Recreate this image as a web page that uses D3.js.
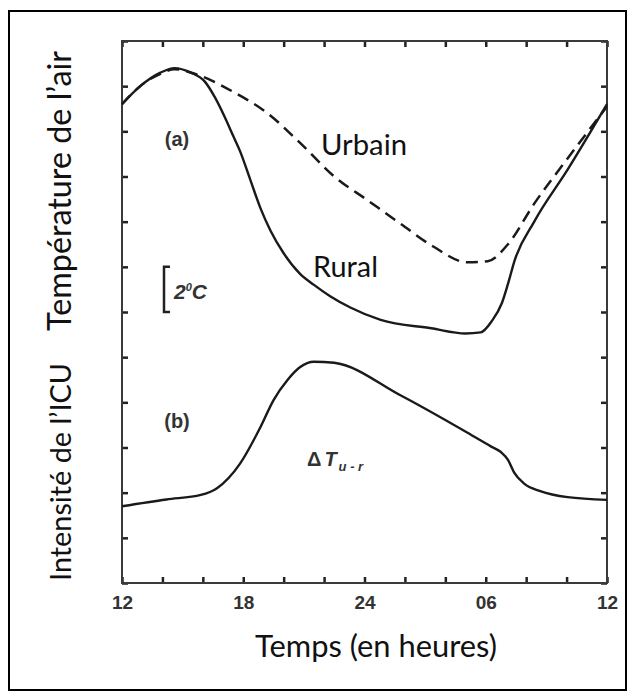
<!DOCTYPE html>
<html>
<head>
<meta charset="utf-8">
<script src="https://cdn.jsdelivr.net/npm/d3@7"></script>
<style>
  body { margin: 0; background: #fff; }
  .calib { font-family: Lato, "Open Sans", sans-serif; fill: #111; }
  .arial { font-family: "Liberation Sans", Arial, sans-serif; font-weight: bold; fill: #333; }
</style>
</head>
<body>
<svg id="chart" width="635" height="700"></svg>
<script>
// heures depuis midi, température relative (°C)
const rural = [
  [0, 21.2], [0.9, 22.0], [1.9, 22.6], [2.6, 22.8], [3.4, 22.6], [4.1, 22.2],
  [4.6, 21.5], [5.1, 20.6], [5.5, 19.8], [5.85, 19.1], [6.35, 17.85], [6.85, 16.6],
  [7.35, 15.6], [8.0, 14.6], [8.8, 13.7], [9.5, 13.2], [10.3, 12.7], [11.3, 12.2],
  [12.8, 11.65], [15.3, 11.28], [17.0, 11.05], [17.75, 11.1], [18.3, 11.6],
  [18.8, 12.4], [19.15, 13.4], [19.4, 14.2], [20.4, 16.0], [22.05, 18.3], [24, 21.2]
]
const urbain = [
  [0, 21.2], [0.9, 22.0], [1.9, 22.55], [2.6, 22.75], [3.9, 22.45], [5.5, 21.75],
  [7.2, 20.8], [8.8, 19.5], [10.5, 18.0], [12.15, 16.95], [13.8, 15.9], [15.4, 14.9],
  [17.1, 14.2], [18.1, 14.25], [19.1, 15.0], [20.4, 16.8], [22.05, 18.8], [24, 21.1]
]
const icu = [
  [0, 3.4], [2.2, 3.7], [3.9, 3.9], [4.7, 4.2], [5.85, 5.3], [6.85, 6.9],
  [7.5, 8.1], [8.2, 9.0], [8.8, 9.55], [9.5, 9.8], [10.5, 9.75], [13.8, 8.3],
  [17.1, 6.65], [18.25, 6.05], [18.75, 5.8], [19.1, 5.45], [19.4, 4.9],
  [19.9, 4.4], [20.7, 4.07], [22.05, 3.8], [24, 3.68]
]
const hourTicks = [0, 6, 12, 18, 24]
const hourLabels = ['12', '18', '24', '06', '12']

const svg = d3.select('#chart')

svg.append('rect')
  .attr('x', 9).attr('y', 11).attr('width', 617).attr('height', 679)
  .attr('fill', 'none').attr('stroke', '#000').attr('stroke-width', 2)

const pL = 122, pR = 607, pT = 41, pB = 583
const x = d3.scaleLinear().domain([0, 24]).range([pL, pR])
const y = d3.scaleLinear().domain([0, 24]).range([pB, pT])

const minor = d3.range(0, 25, 2)

const styleAxis = g => {
  g.select('.domain').remove()
  g.selectAll('.tick line').attr('stroke', '#222').attr('stroke-width', 2.5)
}

svg.append('g').attr('transform', `translate(0,${pB})`)
  .call(d3.axisBottom(x).tickValues(minor).tickSizeInner(-6).tickSizeOuter(0).tickPadding(13)
    .tickFormat(d => hourTicks.includes(d) ? hourLabels[hourTicks.indexOf(d)] : ''))
  .call(styleAxis)
  .call(g => g.selectAll('text').attr('class', 'arial').attr('font-size', 19).attr('fill', '#333'))

svg.append('g').attr('transform', `translate(0,${pT})`)
  .call(d3.axisTop(x).tickValues(minor).tickSizeInner(-6).tickSizeOuter(0).tickFormat(''))
  .call(styleAxis)

svg.append('g').attr('transform', `translate(${pL},0)`)
  .call(d3.axisLeft(y).tickValues(minor).tickSizeInner(-6).tickSizeOuter(0).tickFormat(''))
  .call(styleAxis)

svg.append('g').attr('transform', `translate(${pR},0)`)
  .call(d3.axisRight(y).tickValues(minor).tickSizeInner(-6).tickSizeOuter(0).tickFormat(''))
  .call(styleAxis)

svg.append('rect')
  .attr('x', pL).attr('y', pT).attr('width', pR - pL).attr('height', pB - pT)
  .attr('fill', 'none').attr('stroke', '#3a3a3a').attr('stroke-width', 2)

const line = d3.line().x(d => x(d[0])).y(d => y(d[1])).curve(d3.curveMonotoneX)

svg.append('path').datum(urbain).attr('d', line)
  .attr('fill', 'none').attr('stroke', '#1a1a1a').attr('stroke-width', 2.5)
  .attr('stroke-dasharray', '12,7')
svg.append('path').datum(rural).attr('d', line)
  .attr('fill', 'none').attr('stroke', '#1a1a1a').attr('stroke-width', 2.4)
svg.append('path').datum(icu).attr('d', line)
  .attr('fill', 'none').attr('stroke', '#1a1a1a').attr('stroke-width', 2.4)

// ajuste la taille de police pour obtenir la largeur voulue
const fit = (t, w) => {
  const len = t.node().getComputedTextLength()
  t.attr('font-size', 30 * w / len)
  return t
}

fit(svg.append('text').attr('class', 'calib').attr('font-size', 30)
  .attr('x', 321).attr('y', 155).text('Urbain'), 86)
fit(svg.append('text').attr('class', 'calib').attr('font-size', 30)
  .attr('x', 313).attr('y', 277).text('Rural'), 65)
fit(svg.append('text').attr('class', 'calib').attr('font-size', 30)
  .attr('text-anchor', 'middle').attr('x', 376).attr('y', 657).text('Temps (en heures)'), 242)
fit(svg.append('text').attr('class', 'calib').attr('font-size', 30)
  .attr('text-anchor', 'middle').attr('transform', 'translate(71,191) rotate(-90)')
  .text('Température de l’air'), 280)
fit(svg.append('text').attr('class', 'calib').attr('font-size', 30)
  .attr('text-anchor', 'middle').attr('transform', 'translate(71,472) rotate(-90)')
  .text('Intensité de l’ICU'), 218)

svg.append('text').attr('class', 'arial').attr('font-size', 20)
  .attr('text-anchor', 'middle').attr('x', 177).attr('y', 146).text('(a)')
svg.append('text').attr('class', 'arial').attr('font-size', 20)
  .attr('text-anchor', 'middle').attr('x', 177).attr('y', 428).text('(b)')

// échelle 2°C = un intervalle de graduation
svg.append('path')
  .attr('d', `M170,${y(14)} H164 V${y(12)} H170`)
  .attr('fill', 'none').attr('stroke', '#222').attr('stroke-width', 2.5)
const deg = svg.append('text').attr('class', 'arial').attr('font-size', 21)
  .attr('font-style', 'italic').attr('fill', '#222').attr('x', 174).attr('y', 299)
deg.append('tspan').text('2')
deg.append('tspan').attr('font-size', 11).attr('dy', -8).text('0')
deg.append('tspan').attr('dy', 8).text('C')

const dt = svg.append('text').attr('class', 'arial').attr('font-size', 20)
  .attr('fill', '#222').attr('x', 307).attr('y', 466)
dt.append('tspan').text('Δ')
dt.append('tspan').attr('font-style', 'italic').attr('dx', 3).text('T')
dt.append('tspan').attr('font-style', 'italic').attr('font-size', 13).attr('dy', 5).attr('dx', 2)
  .text('u - r')
</script>
</body>
</html>
